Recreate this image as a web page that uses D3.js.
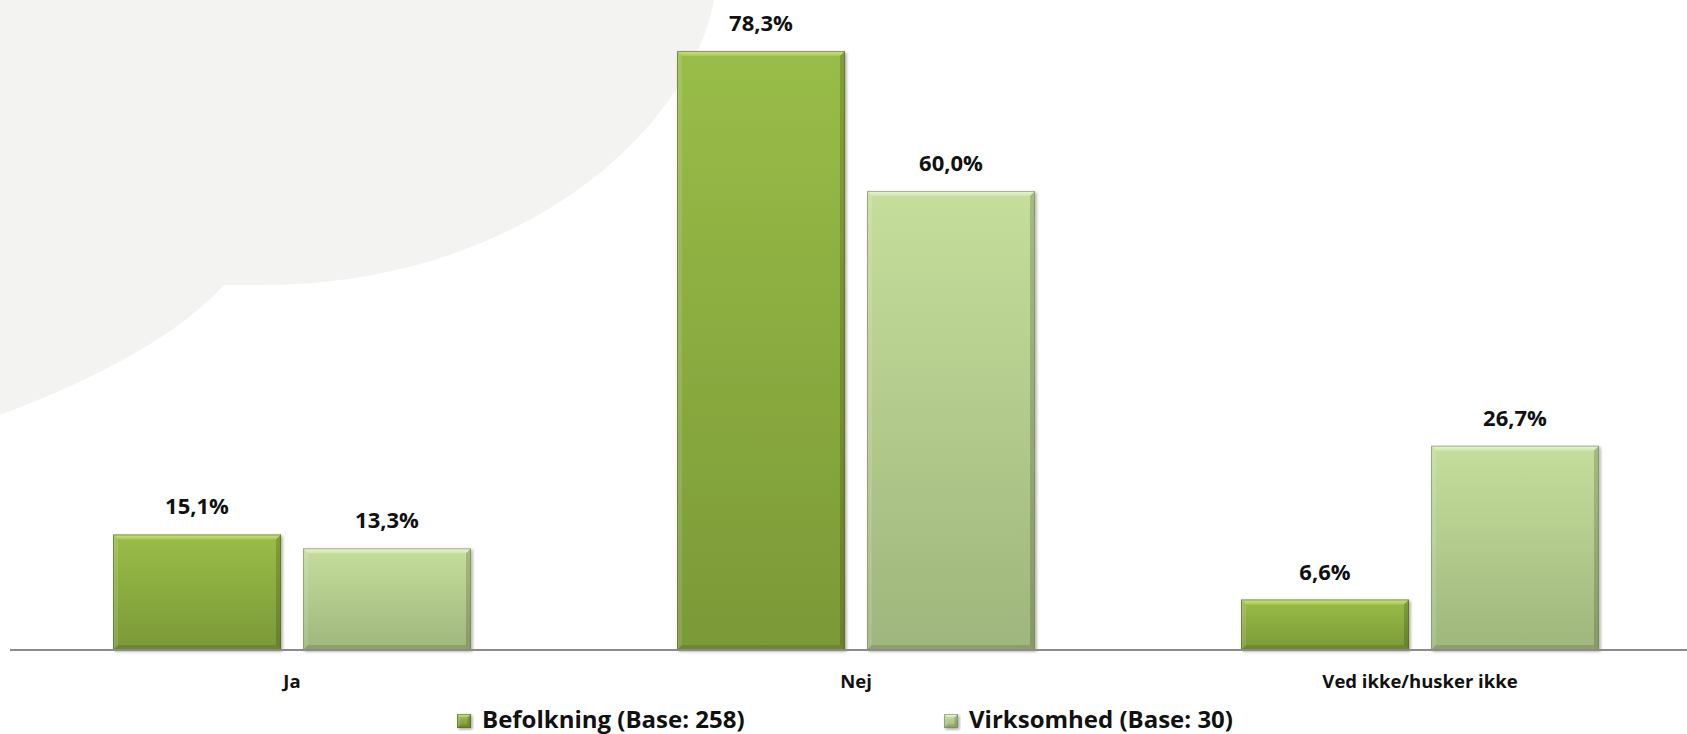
<!DOCTYPE html>
<html>
<head>
<meta charset="utf-8">
<script src="https://cdn.jsdelivr.net/npm/d3@7"></script>
<style>
  html, body { margin: 0; padding: 0; background: #ffffff; }
  svg { display: block; }
  text { font-family: "Open Sans", "Noto Sans", sans-serif; font-weight: 700; fill: #111; }
</style>
</head>
<body>
<svg id="chart" width="1687" height="734"></svg>
<script>
// Answers to the question, per respondent group
const categories = ["Ja", "Nej", "Ved ikke/husker ikke"];
const seriesNames = ["Befolkning (Base: 258)", "Virksomhed (Base: 30)"];
const befolkning = [15.1, 78.3, 6.6];
const virksomhed = [13.3, 60.0, 26.7];
const seriesValues = [befolkning, virksomhed];

const W = 1687, H = 734;
const svg = d3.select("#chart");
const defs = svg.append("defs");

// soft drop shadow under each bar
const shadow = defs.append("filter").attr("id", "barShadow")
  .attr("x", "-10%").attr("y", "-10%").attr("width", "130%").attr("height", "130%");
shadow.append("feDropShadow").attr("dx", 1.5).attr("dy", 1.5)
  .attr("stdDeviation", 1.6).attr("flood-color", "#000").attr("flood-opacity", 0.35);

// colour schemes for the two series
const palettes = [
  { top: "#99bd48", bottom: "#7b9937", bevel: "#cde683", bevel2: "#a7c957", edge: "#4e6420" },
  { top: "#c5de9b", bottom: "#9fb67c", bevel: "#ecf6d6", bevel2: "#cfe5aa", edge: "#6f8458" }
];
palettes.forEach((p, i) => {
  const g = defs.append("linearGradient").attr("id", "body" + i)
    .attr("x1", 0).attr("y1", 0).attr("x2", 0).attr("y2", 1);
  g.append("stop").attr("offset", "0%").attr("stop-color", p.top);
  g.append("stop").attr("offset", "100%").attr("stop-color", p.bottom);
  const b = defs.append("linearGradient").attr("id", "bevel" + i)
    .attr("x1", 0).attr("y1", 0).attr("x2", 0).attr("y2", 1);
  b.append("stop").attr("offset", "0%").attr("stop-color", p.bevel);
  b.append("stop").attr("offset", "100%").attr("stop-color", p.bevel2);
});

// decorative light-grey backdrop shape in the upper left
svg.append("path")
  .attr("d", "M0,0 L714,0 C690,130 520,285 262,285 L224,285 Q160,355 0,415 Z")
  .attr("fill", "#f3f3f1");

// scales
const x0 = d3.scaleBand().domain(categories).range([10, 1702]).paddingInner(0).paddingOuter(0);
const bw = x0.bandwidth();
const x1 = d3.scaleBand().domain(seriesNames)
  .range([bw * 0.1826, bw * 0.8174]).paddingInner(0.116).paddingOuter(0);
const y = d3.scaleLinear().domain([0, 80]).range([650, 38]);

// bevelled bar
function drawBar(g, w, h, si) {
  const p = palettes[si];
  const b = Math.min(5, h / 4);
  g.append("rect").attr("width", w).attr("height", h)
    .attr("fill", `url(#body${si})`).attr("filter", "url(#barShadow)");
  g.append("polygon").attr("points", `0,0 ${w},0 ${w - b},${b} ${b},${b}`)
    .attr("fill", `url(#bevel${si})`);
  g.append("polygon").attr("points", `0,0 ${b},${b} ${b},${h - b} 0,${h}`)
    .attr("fill", "#ffffff").attr("fill-opacity", 0.12);
  g.append("polygon").attr("points", `${w},0 ${w},${h} ${w - b},${h - b} ${w - b},${b}`)
    .attr("fill", "#000").attr("fill-opacity", 0.16);
  g.append("polygon").attr("points", `0,${h} ${b},${h - b} ${w - b},${h - b} ${w},${h}`)
    .attr("fill", "#000").attr("fill-opacity", 0.12);
  g.append("rect").attr("x", 0.5).attr("y", 0.5).attr("width", w - 1).attr("height", h - 1)
    .attr("fill", "none").attr("stroke", p.edge).attr("stroke-opacity", 0.55).attr("stroke-width", 1);
}

const rows = categories.map((c, ci) => ({
  cat: c,
  vals: seriesNames.map((s, si) => ({ s, si, v: seriesValues[si][ci] }))
}));

const groups = svg.append("g").selectAll("g.cat").data(rows).join("g")
  .attr("class", "cat").attr("transform", d => `translate(${x0(d.cat)},0)`);

groups.selectAll("g.bar").data(d => d.vals).join("g")
  .attr("class", "bar")
  .attr("transform", d => `translate(${x1(d.s)},${y(d.v)})`)
  .each(function (d) { drawBar(d3.select(this), x1.bandwidth(), y(0) - y(d.v), d.si); });

// value labels
groups.selectAll("text.val").data(d => d.vals).join("text")
  .attr("class", "val")
  .attr("x", d => x1(d.s) + x1.bandwidth() / 2)
  .attr("y", d => y(d.v) - 20)
  .attr("text-anchor", "middle")
  .attr("font-size", 22)
  .text(d => d.v.toFixed(1).replace(".", ",") + "%");

// category axis
const axis = svg.append("g").attr("transform", `translate(0,${y(0)})`)
  .call(d3.axisBottom(x0).tickSize(0).tickPadding(0));
axis.select(".domain").attr("d", `M10,0 H${W}`).attr("stroke", "#8c8c8c").attr("stroke-width", 2);
axis.selectAll(".tick text")
  .attr("y", 38).attr("dy", 0)
  .attr("font-size", 18.5).attr("fill", "#111")
  .style("font-family", "'Open Sans', 'Noto Sans', sans-serif").style("font-weight", 700);

// legend
const legendX = [457, 944];
const legend = svg.append("g").selectAll("g").data(seriesNames).join("g")
  .attr("transform", (d, i) => `translate(${legendX[i]},714)`);
legend.each(function (d, i) {
  const g = d3.select(this);
  const sq = g.append("g");
  drawBar(sq, 14, 14, i);
  g.append("text").attr("x", 25).attr("y", 14).attr("font-size", 24).text(d);
});
</script>
</body>
</html>
